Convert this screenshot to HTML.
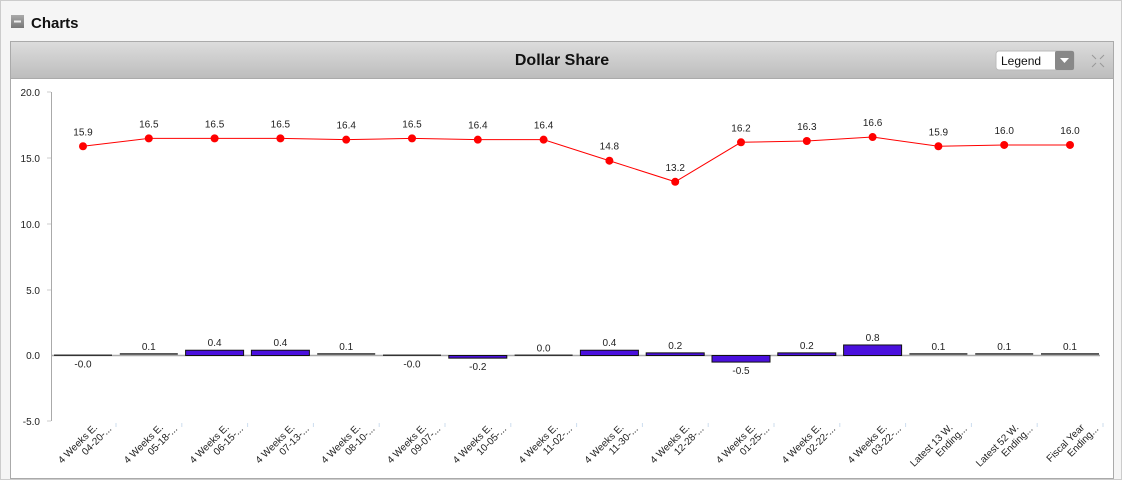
<!DOCTYPE html>
<html><head><meta charset="utf-8"><style>
body{margin:0;width:1126px;height:480px;background:#fff;font-family:"Liberation Sans",sans-serif;overflow:hidden}
</style></head><body>
<svg width="1126" height="480" xmlns="http://www.w3.org/2000/svg" font-family="Liberation Sans, sans-serif">
<defs>
<linearGradient id="hd" x1="0" y1="0" x2="0" y2="1"><stop offset="0" stop-color="#dcdcdc"/><stop offset="1" stop-color="#bdbdbd"/></linearGradient>
<linearGradient id="ic" x1="0" y1="0" x2="0" y2="1"><stop offset="0" stop-color="#aaa"/><stop offset="1" stop-color="#777"/></linearGradient>
</defs>
<rect x="0.5" y="0.5" width="1121" height="479" fill="#f5f5f5" stroke="#ccc"/>
<rect x="11" y="15" width="13" height="13" fill="url(#ic)"/>
<rect x="14" y="20.5" width="7" height="2" fill="#eee"/>
<text x="31" y="28" font-size="15" font-weight="bold" fill="#111">Charts</text>
<rect x="10.5" y="41.5" width="1103" height="437" fill="#fff" stroke="#aaa"/>
<rect x="11" y="42" width="1102" height="36" fill="url(#hd)"/>
<line x1="11" y1="78.5" x2="1113" y2="78.5" stroke="#aaa"/>
<text x="562" y="65" font-size="16" font-weight="bold" text-anchor="middle" fill="#111">Dollar Share</text>
<rect x="996" y="51" width="78" height="19" rx="3" fill="#fff" stroke="#bbb"/>
<rect x="1055" y="51" width="19" height="19" rx="2" fill="#888"/>
<path d="M1060 58 h9 l-4.5 5z" fill="#fff"/>
<text x="1001" y="65" font-size="12" fill="#111">Legend</text>
<g stroke="#999" stroke-width="1" fill="none"><path d="M1092 55l4 4M1104 55l-4 4M1092 67l4-4M1104 67l-4-4"/></g>
<g font-size="10" fill="#222" text-anchor="end">
<text x="40" y="96">20.0</text><text x="40" y="162">15.0</text><text x="40" y="228">10.0</text><text x="40" y="294">5.0</text><text x="40" y="359">0.0</text><text x="40" y="425">-5.0</text>
</g>
<g stroke="#ccc"><line x1="47" y1="92" x2="51" y2="92"/><line x1="47" y1="158" x2="51" y2="158"/><line x1="47" y1="224" x2="51" y2="224"/><line x1="47" y1="290" x2="51" y2="290"/><line x1="47" y1="421" x2="51" y2="421"/></g>
<line x1="51.5" y1="92" x2="51.5" y2="421" stroke="#aaa"/>
<line x1="51" y1="355.5" x2="1100" y2="355.5" stroke="#aaa" stroke-width="1.5"/>
<g id="c"></g>
</svg>
<script>
var line=[15.9,16.5,16.5,16.5,16.4,16.5,16.4,16.4,14.8,13.2,16.2,16.3,16.6,15.9,16.0,16.0];
var bar=[-0.0,0.1,0.4,0.4,0.1,-0.0,-0.2,0.0,0.4,0.2,-0.5,0.2,0.8,0.1,0.1,0.1];
var bl=["-0.0","0.1","0.4","0.4","0.1","-0.0","-0.2","0.0","0.4","0.2","-0.5","0.2","0.8","0.1","0.1","0.1"];
var l1=["4 Weeks E.","4 Weeks E.","4 Weeks E.","4 Weeks E.","4 Weeks E.","4 Weeks E.","4 Weeks E.","4 Weeks E.","4 Weeks E.","4 Weeks E.","4 Weeks E.","4 Weeks E.","4 Weeks E.","Latest 13 W.","Latest 52 W.","Fiscal Year"];
var l2=["04-20-...","05-18-...","06-15-...","07-13-...","08-10-...","09-07-...","10-05-...","11-02-...","11-30-...","12-28-...","01-25-...","02-22-...","03-22-...","Ending...","Ending...","Ending..."];
function Y(v){return 355.5-v*13.16;}
var s="",pts=[];
for(var i=0;i<16;i++){var x=83+i*65.8;pts.push(x+","+Y(line[i]));}
s+='<polyline points="'+pts.join(" ")+'" fill="none" stroke="#f00" stroke-width="1"/>';
for(var i=0;i<16;i++){var x=83+i*65.8,v=bar[i];
 var y0=Y(Math.max(v,0)),h=Math.max(Math.abs(v)*13.16,1.5);
 var big=Math.abs(v)>=0.2;
 s+='<rect x="'+(x-29)+'" y="'+(v>=0?y0-(h<2?1:0):355.5)+'" width="58" height="'+h+'" fill="'+(big?'#4a10dd':'#333')+'" stroke="#111" stroke-width="'+(big?1:0)+'"/>';
 var neg=bl[i].charAt(0)=="-";
 var ly=neg?Y(Math.min(v,0))+12:Y(v)-4;
 s+='<text x="'+x+'" y="'+ly+'" font-size="10" text-anchor="middle" fill="#222">'+bl[i]+'</text>';
 s+='<circle cx="'+x+'" cy="'+Y(line[i])+'" r="4" fill="#f00"/>';
 s+='<text x="'+x+'" y="'+(Y(line[i])-11)+'" font-size="10" text-anchor="middle" fill="#222">'+line[i].toFixed(1)+'</text>';
 s+='<line x1="'+(x+33)+'" y1="423" x2="'+(x+33)+'" y2="427" stroke="#cde"/>';
 s+='<g transform="translate('+(x+15)+',428) rotate(-45)" font-size="10" fill="#222" text-anchor="end"><text x="0" y="0">'+l1[i]+'</text><text x="9" y="11">'+l2[i]+'</text></g>';
}
document.getElementById("c").innerHTML=s;
</script>
</body></html>
